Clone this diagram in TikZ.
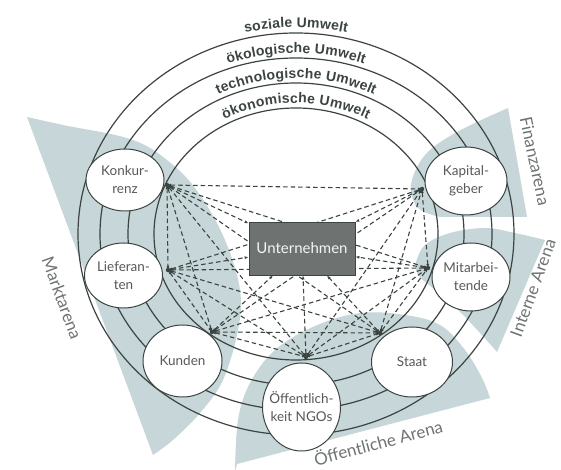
\documentclass[tikz,border=0pt]{standalone}
\usepackage{fontspec}
\setmainfont{Lato}
\newfontfamily\ringfont{Liberation Sans}
\usetikzlibrary{shapes.geometric,arrows.meta,decorations.text,calc}
\definecolor{ink}{HTML}{3B4441}
\definecolor{arenashade}{HTML}{C6D6D9}
\definecolor{lbl}{HTML}{555957}
\definecolor{arenatext}{HTML}{6E7371}
\definecolor{boxfill}{HTML}{6E7371}
\newcommand\ringstyle{\ringfont\bfseries\fontsize{14}{14}\selectfont\color{ink}}
\pgfdeclarelayer{shadelayer}
\pgfdeclarelayer{ringlayer}
\pgfdeclarelayer{linklayer}
\pgfsetlayers{shadelayer,ringlayer,linklayer,main}
\begin{document}
\begin{tikzpicture}[x=1pt,y=1pt,
  actor/.style={ellipse, draw=ink, line width=1pt, fill=white, inner sep=0pt},
  actorlabel/.style={align=center, text=lbl, font=\fontsize{13.5}{18}\selectfont, inner sep=0pt},
  ringline/.style={draw=ink, line width=1.2pt},
  arenafill/.style={fill=arenashade, draw=none},
  arenalabel/.style={text=arenatext, font=\fontsize{17}{17}\selectfont, inner sep=0pt},
  link/.style={draw=ink, line width=1.1pt, dash pattern=on 4.5pt off 3pt,
    {Latex[length=4pt,width=3pt]}-{Latex[length=4pt,width=3pt]}}
]
\useasboundingbox (0,0) rectangle (561,470);
\coordinate (C) at (296,236);

% arenas
\begin{pgfonlayer}{shadelayer}
\clip (0,0) rectangle (561,470);
\path[arenafill] plot[smooth, tension=0.6] coordinates {(27,353) (63,345) (133,330) (173,305) (200,275) (225,230) (240,180) (238,140) (223,90) (200,57) (173,30) (153,15)} -- cycle;
\path[arenafill] plot[smooth, tension=0.6] coordinates {(508,362) (457,338) (425,315) (411,285) (418,262) (440,253)} -- (527,253) -- cycle;
\path[arenafill] plot[smooth, tension=0.6] coordinates {(416,208) (425,225) (450,237) (485,242) (515,237) (545,230)} -- (497,118) -- plot[smooth, tension=0.6] coordinates {(497,118) (480,137) (458,160) (435,180) (418,195) (416,208)} -- cycle;
\path[arenafill] plot[smooth, tension=0.6] coordinates {(235,-2) (238,50) (250,87) (275,120) (315,144) (360,157) (405,155) (440,145) (465,120) (482,92) (490,72)} -- (237,6) -- cycle;
\end{pgfonlayer}

% rings
\begin{pgfonlayer}{ringlayer}
\draw[ringline] (C) ellipse [x radius=218, y radius=201];
\draw[ringline] (C) ellipse [x radius=196, y radius=176];
\draw[ringline] (C) ellipse [x radius=168, y radius=151];
\draw[ringline] (C) ellipse [x radius=142, y radius=126];
\end{pgfonlayer}

\path[decorate, decoration={text along path, text align=center, raise=5.5pt, text={|\ringstyle|soziale Umwelt}}]
  ($(C)+(130:218 and 201)$) arc[start angle=130, end angle=50, x radius=218, y radius=201];
\path[decorate, decoration={text along path, text align=center, raise=5pt, text={|\ringstyle|ökologische Umwelt}}]
  ($(C)+(130:196 and 176)$) arc[start angle=130, end angle=50, x radius=196, y radius=176];
\path[decorate, decoration={text along path, text align=center, raise=5pt, text={|\ringstyle|technologische Umwelt}}]
  ($(C)+(135:168 and 151)$) arc[start angle=135, end angle=45, x radius=168, y radius=151];
\path[decorate, decoration={text along path, text align=center, raise=5pt, text={|\ringstyle|ökonomische Umwelt}}]
  ($(C)+(140:142 and 126)$) arc[start angle=140, end angle=40, x radius=142, y radius=126];

% actors
\node[actor, minimum width=78pt, minimum height=62pt, label={[actorlabel]center:Konkur-\\renz}] (konk) at (125,290) {};
\node[actor, minimum width=78pt, minimum height=65pt, label={[actorlabel]center:Lieferan-\\ten}] (lief) at (123.5,194.5) {};
\node[actor, minimum width=79pt, minimum height=72pt, label={[actorlabel]center:Kunden}] (kund) at (182.5,109) {};
\node[actor, minimum width=78pt, minimum height=88pt, label={[actorlabel]center:Öffentlich-\\keit NGOs}] (oeff) at (301.5,63) {};
\node[actor, minimum width=81pt, minimum height=70pt, label={[actorlabel]center:Staat}] (staat) at (412,108) {};
\node[actor, minimum width=78pt, minimum height=68pt, label={[actorlabel]center:Mitarbei-\\tende}] (mitar) at (471,193) {};
\node[actor, minimum width=82pt, minimum height=68pt, label={[actorlabel]center:Kapital-\\geber}] (kapit) at (466,289) {};

\node[draw=ink, fill=boxfill, line width=0.8pt, minimum width=106pt, minimum height=53pt,
  text=white!92!gray, font=\fontsize{15}{18}\selectfont] (U) at (302,221.5) {Unternehmen};

% hubs
\coordinate (hK) at (167,285);
\coordinate (hL) at (168,200);
\coordinate (hKu) at (212,138);
\coordinate (hO) at (306,113);
\coordinate (hS) at (380,137);
\coordinate (hM) at (428,202);
\coordinate (hKa) at (422,281);

\begin{pgfonlayer}{linklayer}
\foreach \a/\b in {K/L,K/Ku,K/O,K/S,K/M,K/Ka,L/Ku,L/O,L/S,L/M,L/Ka,Ku/O,Ku/S,Ku/M,Ku/Ka,O/S,O/M,O/Ka,S/M,S/Ka,M/Ka}
  \draw[link] (h\a) -- (h\b);
\foreach \a in {K,L,Ku,O,S,M,Ka}
  \draw[link] (h\a) -- (U);
\foreach \a in {K,L,Ku,O,S,M,Ka}
  \fill[ink] (h\a) circle (2.2pt);
\end{pgfonlayer}

% arena labels
\node[arenalabel, rotate=-70] (markt) at (62,172) {Marktarena};
\node[arenalabel, rotate=-78] (finanz) at (535,309) {Finanzarena};
\node[arenalabel, rotate=70] (intern) at (533,182) {Interne Arena};
\node[arenalabel, rotate=15] (oeffar) at (378,28) {Öffentliche Arena};
\end{tikzpicture}
\end{document}
